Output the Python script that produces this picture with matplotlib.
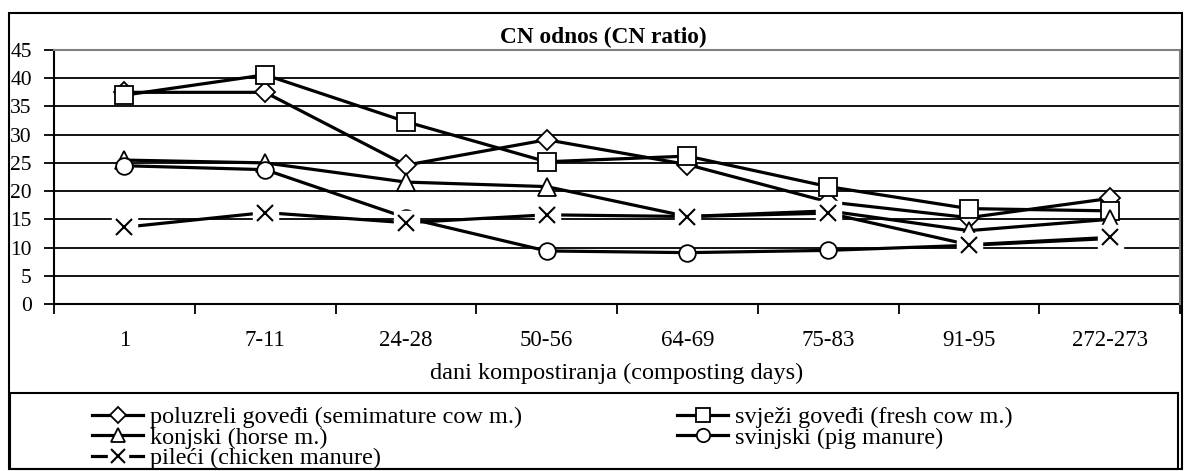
import matplotlib
matplotlib.use("Agg")
import matplotlib.pyplot as plt
from matplotlib.patches import Rectangle
from matplotlib.legend_handler import HandlerTuple

categories = ['1', '7-11', '24-28', '50-56', '64-69', '75-83', '91-95', '272-273']
semimature_cow = [37.5, 37.5, 24.6, 29.1, 24.7, 18.1, 15.3, 18.7]
fresh_cow = [37.0, 40.6, 32.3, 25.2, 26.2, 20.8, 16.9, 16.5]
horse = [25.5, 25.0, 21.6, 20.8, 15.5, 16.5, 13.0, 15.0]
pig = [24.5, 23.8, 15.3, 9.4, 9.1, 9.5, 10.4, 11.6]
chicken = [13.6, 16.2, 14.4, 15.8, 15.5, 16.1, 10.5, 11.8]
yticks = [0, 5, 10, 15, 20, 25, 30, 35, 40, 45]

labels = ['poluzreli goveđi (semimature cow m.)', 'svježi goveđi (fresh cow m.)',
          'konjski (horse m.)', 'svinjski (pig manure)', 'pileći (chicken manure)']

plt.rcParams['font.family'] = ['Liberation Serif', 'DejaVu Serif']

W, H = 1184, 471
fig = plt.figure(figsize=(W / 100, H / 100), dpi=100)
ax = fig.add_axes([54 / W, 1 - 304 / H, (1180 - 54) / W, (304 - 50) / H])

x = list(range(len(categories)))
lw = 2.3
mew = 1.3
common = dict(color='black', lw=lw, mfc='white', mec='black', mew=mew)
l1, = ax.plot(x, semimature_cow, marker='D', ms=10, **common)
l2, = ax.plot(x, fresh_cow, marker='s', ms=12.5, **common)
l3, = ax.plot(x, horse, marker='^', ms=13, **common)
l4, = ax.plot(x, pig, marker='o', ms=12, **common)
l5, = ax.plot(x, chicken, color='black', lw=lw)
l5b, = ax.plot(x, chicken, ls='none', marker='s', ms=18, mfc='white', mec='white')
l5c, = ax.plot(x, chicken, ls='none', marker='x', ms=12, mec='black', mew=1.5)

ax.set_xlim(-0.5, len(categories) - 0.5)
ax.set_ylim(yticks[0], yticks[-1])
ax.set_yticks(yticks)
ax.set_yticklabels([str(v) for v in yticks], fontsize=15.5)
ax.set_xticks([i - 0.5 for i in range(len(categories) + 1)])
ax.set_xticklabels([])
ax.set_xticks(x, minor=True)
ax.set_xticklabels(categories, minor=True, fontsize=16.5)
ax.tick_params(axis='x', which='minor', length=0, pad=19)
ax.tick_params(axis='x', which='major', length=7, width=1.3, direction='out')
ax.tick_params(axis='y', length=7, width=1.3, direction='out', pad=9)
ax.grid(axis='y', color='black', lw=1.3)
ax.set_axisbelow(True)
for s in ['left', 'bottom']:
    ax.spines[s].set_color('black')
    ax.spines[s].set_linewidth(1.5)
for s in ['top', 'right']:
    ax.spines[s].set_color('#808080')
    ax.spines[s].set_linewidth(1.5)
    ax.spines[s].set_zorder(5)

fig.text(603 / W, 1 - 37 / H, 'CN odnos (CN ratio)', fontsize=16.8, fontweight='bold',
         ha='center', va='center')
fig.text(617 / W, 1 - 373 / H, 'dani kompostiranja (composting days)', fontsize=17.5,
         ha='center', va='center')

# outer frame and legend frame
fig.patches.append(Rectangle((9 / W, 1 - 469 / H), (1182 - 9) / W, (469 - 13) / H,
                             transform=fig.transFigure, fill=False, ec='black', lw=1.5))
fig.patches.append(Rectangle((10 / W, 1 - 469 / H), (1178 - 10) / W, (469 - 393) / H,
                             transform=fig.transFigure, fill=False, ec='black', lw=1.5))

leg_kw = dict(frameon=False, loc='upper left', borderaxespad=0, borderpad=0,
              fontsize=17.5, handlelength=2.1, handletextpad=0.3, labelspacing=-0.06,
              markerscale=0.8, handler_map={tuple: HandlerTuple(ndivide=1)})
leg1 = fig.legend([l1, l3, (l5, l5b, l5c)], [labels[0], labels[2], labels[4]],
                  bbox_to_anchor=(92 / W, 1 - 406 / H), **leg_kw)
leg2 = fig.legend([l2, l4], [labels[1], labels[3]],
                  bbox_to_anchor=(677 / W, 1 - 406 / H), **leg_kw)

fig.savefig('out.png', dpi=100)
